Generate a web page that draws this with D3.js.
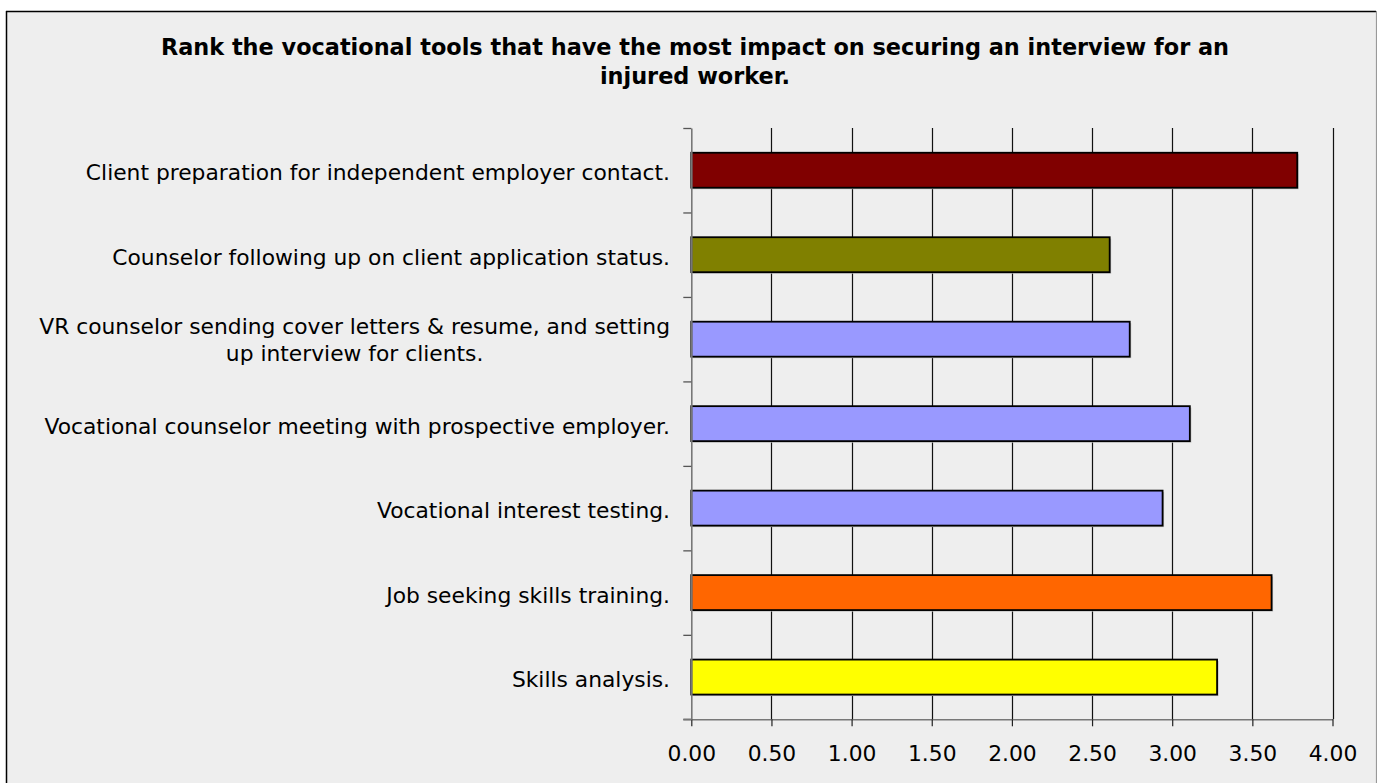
<!DOCTYPE html>
<html>
<head>
<meta charset="utf-8">
<script src="https://cdn.jsdelivr.net/npm/d3@7"></script>
<style>
  html, body { margin: 0; padding: 0; background: #ffffff; }
  svg { display: block; }
</style>
</head>
<body>
<svg id="chart" width="1377" height="783"></svg>
<script>
// Survey results: mean rank per vocational tool
const categories = [
  "Client preparation for independent employer contact.",
  "Counselor following up on client application status.",
  "VR counselor sending cover letters & resume, and setting up interview for clients.",
  "Vocational counselor meeting with prospective employer.",
  "Vocational interest testing.",
  "Job seeking skills training.",
  "Skills analysis."
];
const values = [3.78, 2.61, 2.735, 3.11, 2.94, 3.62, 3.28];
const barColors = ["#800000", "#808000", "#9999ff", "#9999ff", "#9999ff", "#ff6600", "#ffff00"];
const xTicks = [0, 0.5, 1, 1.5, 2, 2.5, 3, 3.5, 4];
const titleLines = [
  "Rank the vocational tools that have the most impact on securing an interview for an",
  "injured worker."
];

const svg = d3.select("#chart");
const W = 1377, H = 783;
const plot = { left: 691.3, right: 1332.5, top: 128, bottom: 719.3 };
const labelFont = "'DejaVu Sans', sans-serif";
const labelSize = 21.8;

// chart frame
svg.append("rect")
  .attr("x", 0).attr("y", 0).attr("width", W).attr("height", H)
  .attr("fill", "#ffffff");
svg.append("rect")
  .attr("x", 7).attr("y", 11.5).attr("width", W - 8).attr("height", H)
  .attr("fill", "#eeeeee");
svg.append("line").attr("x1", 6.5).attr("x2", 6.5).attr("y1", 11).attr("y2", H)
  .attr("stroke", "#000").attr("stroke-width", 1.5);
svg.append("line").attr("x1", 6).attr("x2", 1376).attr("y1", 11.5).attr("y2", 11.5)
  .attr("stroke", "#000").attr("stroke-width", 1.5);
svg.append("line").attr("x1", 1376.5).attr("x2", 1376.5).attr("y1", 11).attr("y2", H)
  .attr("stroke", "#999").attr("stroke-width", 1.2);

// title
svg.append("text")
  .attr("x", 695).attr("y", 55)
  .attr("text-anchor", "middle")
  .attr("font-family", "'DejaVu Sans', sans-serif")
  .attr("font-weight", "bold")
  .attr("font-size", 22.4)
  .attr("fill", "#000")
  .selectAll("tspan").data(titleLines).join("tspan")
  .attr("x", 695).attr("dy", (d, i) => i === 0 ? 0 : 29)
  .text(d => d);

// scales
const x = d3.scaleLinear().domain([0, 4]).range([plot.left, plot.right]);
const y = d3.scaleBand().domain(categories).range([plot.top, plot.bottom])
  .paddingInner(0.586).paddingOuter(0.293);
const yEdge = d3.scaleLinear().domain([0, categories.length]).range([plot.top, plot.bottom]);

// vertical gridlines
svg.append("g")
  .selectAll("line").data(xTicks.filter(t => t > 0)).join("line")
  .attr("x1", d => Math.round(x(d)) + 0.5).attr("x2", d => Math.round(x(d)) + 0.5)
  .attr("y1", plot.top).attr("y2", plot.bottom)
  .attr("stroke", "#111").attr("stroke-width", 1.2);

// bars with a soft drop shadow
const bars = svg.append("g");
bars.selectAll("rect.shadow").data(values).join("rect")
  .attr("class", "shadow")
  .attr("x", x(0) + 1.5)
  .attr("y", (d, i) => y(categories[i]) + 1.5)
  .attr("width", d => x(d) - x(0))
  .attr("height", y.bandwidth())
  .attr("fill", "#bbbbbb");
bars.selectAll("rect.bar").data(values).join("rect")
  .attr("class", "bar")
  .attr("x", x(0))
  .attr("y", (d, i) => y(categories[i]))
  .attr("width", d => x(d) - x(0))
  .attr("height", y.bandwidth())
  .attr("fill", (d, i) => barColors[i])
  .attr("stroke", "#000")
  .attr("stroke-width", 1.8);

// bottom value axis
const xAxis = svg.append("g")
  .attr("transform", `translate(0,${plot.bottom})`)
  .call(d3.axisBottom(x).tickValues(xTicks).tickFormat(d3.format(".2f"))
    .tickSize(7).tickSizeOuter(0).tickPadding(19));
xAxis.select(".domain").attr("stroke", "#777").attr("stroke-width", 1.6);
xAxis.selectAll(".tick line").attr("stroke", "#222").attr("stroke-width", 1.2);
xAxis.selectAll(".tick text")
  .attr("font-family", labelFont).attr("font-size", labelSize).attr("fill", "#000");

// left category axis, ticks at band edges
const yAxis = svg.append("g")
  .attr("transform", `translate(${plot.left},0)`)
  .call(d3.axisLeft(yEdge).tickValues(d3.range(categories.length + 1))
    .tickFormat("").tickSize(8).tickSizeOuter(0));
yAxis.select(".domain").attr("stroke", "#777").attr("stroke-width", 1.6);
yAxis.selectAll(".tick line").attr("stroke", "#555").attr("stroke-width", 1.3);
// extend the bottom axis line left to meet the last category tick
svg.append("line")
  .attr("x1", plot.left - 8).attr("x2", plot.left)
  .attr("y1", plot.bottom).attr("y2", plot.bottom)
  .attr("stroke", "#777").attr("stroke-width", 1.6);

// category labels, wrapped and centred within a right-aligned block
const labelRight = 670;
const maxLabelWidth = 655;
const lineGap = 27;
const labels = svg.append("g")
  .attr("font-family", labelFont).attr("font-size", labelSize).attr("fill", "#000");

categories.forEach((cat, i) => {
  const words = cat.split(" ");
  const probe = labels.append("text");
  const lines = [];
  let cur = [];
  words.forEach(w => {
    const trial = cur.concat(w).join(" ");
    probe.text(trial);
    if (probe.node().getComputedTextLength() > maxLabelWidth && cur.length) {
      lines.push(cur.join(" "));
      cur = [w];
    } else {
      cur.push(w);
    }
  });
  lines.push(cur.join(" "));
  const widths = lines.map(l => { probe.text(l); return probe.node().getComputedTextLength(); });
  probe.remove();
  const blockW = d3.max(widths);
  const cx = labelRight - blockW / 2;
  const cy = y(cat) + y.bandwidth() / 2;
  const firstBaseline = lines.length > 1
    ? cy + 8 - (lines.length - 1) * lineGap / 2
    : cy + 10;
  const t = labels.append("text").attr("text-anchor", lines.length > 1 ? "middle" : "end");
  t.selectAll("tspan").data(lines).join("tspan")
    .attr("x", lines.length > 1 ? cx : labelRight)
    .attr("y", (d, k) => firstBaseline + k * lineGap)
    .text(d => d);
});
</script>
</body>
</html>
